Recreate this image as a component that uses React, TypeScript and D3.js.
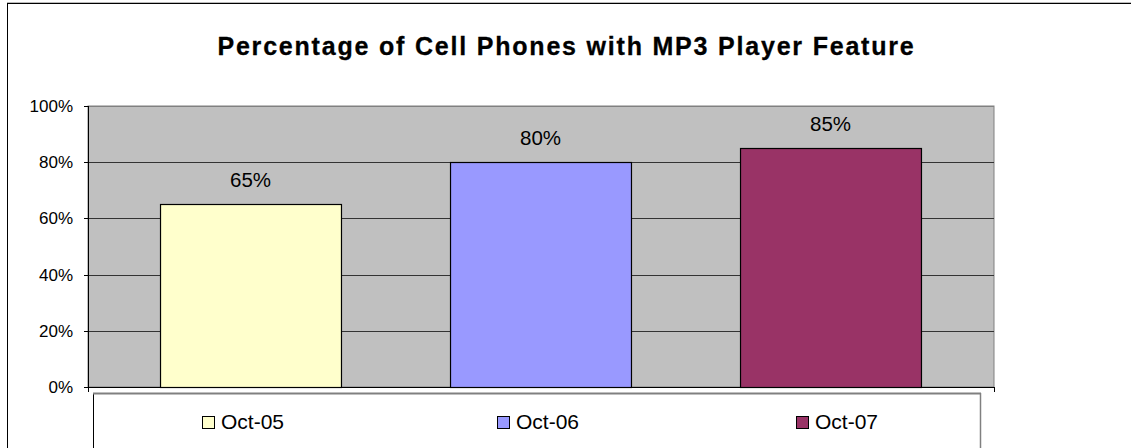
import React from "react";
import * as d3 from "d3";

const categories = ["Oct-05", "Oct-06", "Oct-07"];
const values = [0.65, 0.8, 0.85];
const colors = ["#FFFFCC", "#9999FF", "#993366"];
const yTicks = [0, 0.2, 0.4, 0.6, 0.8, 1.0];
const title = "Percentage of Cell Phones with MP3 Player Feature";

const W = 1131;
const H = 448;
const plot = { left: 88, top: 106, right: 994, bottom: 387 };

export default function App() {
  const y = d3.scaleLinear().domain([0, 1]).range([plot.bottom, plot.top]);
  const x = d3
    .scaleBand<string>()
    .domain(categories)
    .range([105.5, 975.5])
    .paddingInner(0.376)
    .paddingOuter(0.188);
  const fmt = d3.format(".0%");
  const font = "Arial, 'Liberation Sans', sans-serif";
  const legendX = [202, 497, 796];

  return (
    <svg
      width={W}
      height={H}
      style={{ position: "absolute", left: 0, top: 0, display: "block" }}
      fontFamily={font}
    >
      <rect x={0} y={0} width={W} height={H} fill="#fff" />
      {/* outer chart border */}
      <rect x={7.5} y={3.5} width={W + 10} height={H + 10} fill="none" stroke="#000" strokeWidth={1} />
      <line x1={7} x2={W} y1={2.5} y2={2.5} stroke="#bbb" />

      <text
        x={566.5}
        y={55}
        textAnchor="middle"
        fontSize={25}
        fontWeight="bold"
        letterSpacing={1.8}
        fill="#000"
        stroke="#000"
        strokeWidth={0.3}
      >
        {title}
      </text>

      {/* plot area */}
      <rect
        x={plot.left}
        y={plot.top}
        width={plot.right - plot.left}
        height={plot.bottom - plot.top}
        fill="#C0C0C0"
        stroke="#808080"
        strokeWidth={1}
      />
      {yTicks.slice(1).map((t) => (
        <line
          key={t}
          x1={plot.left}
          x2={plot.right}
          y1={Math.round(y(t)) + 0.5}
          y2={Math.round(y(t)) + 0.5}
          stroke={t === 1 ? "#808080" : "#333"}
          strokeWidth={1}
        />
      ))}

      {categories.map((c, i) => (
        <g key={c}>
          <rect
            x={x(c)! + 0.5}
            y={Math.round(y(values[i])) + 0.5}
            width={x.bandwidth()}
            height={plot.bottom - Math.round(y(values[i]))}
            fill={colors[i]}
            stroke="#000"
            strokeWidth={1.2}
          />
          <text
            x={x(c)! + x.bandwidth() / 2}
            y={y(values[i]) - 17}
            textAnchor="middle"
            fontSize={20.5}
            fill="#000"
          >
            {fmt(values[i])}
          </text>
        </g>
      ))}

      {/* axes */}
      <line x1={plot.left + 0.5} x2={plot.left + 0.5} y1={plot.top} y2={plot.bottom + 5} stroke="#000" />
      <line x1={plot.left - 4} x2={plot.right} y1={plot.bottom + 0.5} y2={plot.bottom + 0.5} stroke="#000" />
      <line x1={plot.right + 0.5} x2={plot.right + 0.5} y1={plot.bottom} y2={plot.bottom + 5} stroke="#000" />
      {yTicks.map((t) => (
        <g key={t}>
          <line
            x1={plot.left - 4}
            x2={plot.left}
            y1={Math.round(y(t)) + 0.5}
            y2={Math.round(y(t)) + 0.5}
            stroke="#000"
          />
          <text
            x={73}
            y={y(t) + 6}
            textAnchor="end"
            fontSize={17}
            fill="#000"
          >
            {fmt(t)}
          </text>
        </g>
      ))}

      {/* legend */}
      <rect x={93.5} y={393.5} width={887} height={80} fill="#fff" stroke="#000" strokeWidth={1} />
      <line x1={93} x2={981} y1={393.5} y2={393.5} stroke="#808080" strokeWidth={2} />
      <line x1={980.5} x2={980.5} y1={393} y2={H} stroke="#808080" strokeWidth={1.5} />
      {categories.map((c, i) => (
        <g key={c}>
          <rect
            x={legendX[i] + 0.5}
            y={416.5}
            width={12}
            height={12}
            fill={colors[i]}
            stroke="#000"
            strokeWidth={1}
          />
          <text x={legendX[i] + 19} y={429} fontSize={21} fill="#000">
            {c}
          </text>
        </g>
      ))}
    </svg>
  );
}
